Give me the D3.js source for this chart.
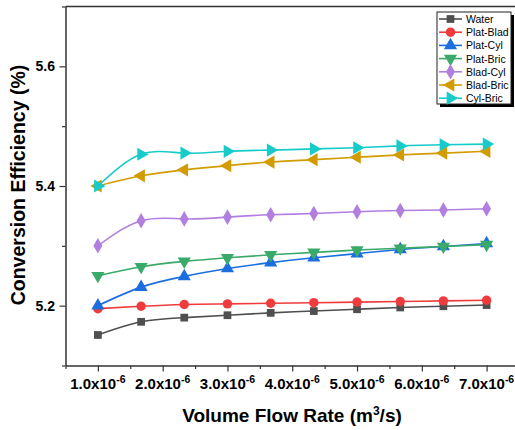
<!DOCTYPE html>
<html>
<head>
<meta charset="utf-8">
<script src="https://cdn.jsdelivr.net/npm/d3@7"></script>
<style>
  body { margin: 0; background: #fff; }
  svg { font-family: "Liberation Sans", Arial, sans-serif; }
</style>
</head>
<body>
<div id="chart"></div>
<script>
// volume flow rate (m3/s)
var flowRates = [1.0e-6, 1.667e-6, 2.333e-6, 3.0e-6, 3.667e-6, 4.333e-6, 5.0e-6, 5.667e-6, 6.333e-6, 7.0e-6];

var seriesNames = ["Water", "Plat-Blad", "Plat-Cyl", "Plat-Bric", "Blad-Cyl", "Blad-Bric", "Cyl-Bric"];

var water    = [5.151, 5.173, 5.180, 5.184, 5.188, 5.191, 5.194, 5.197, 5.199, 5.201];
var platBlad = [5.195, 5.199, 5.202, 5.203, 5.204, 5.205, 5.206, 5.207, 5.208, 5.209];
var platCyl  = [5.200, 5.231, 5.249, 5.262, 5.272, 5.280, 5.287, 5.294, 5.299, 5.304];
var platBric = [5.250, 5.265, 5.274, 5.280, 5.285, 5.289, 5.293, 5.296, 5.299, 5.302];
var bladCyl  = [5.300, 5.342, 5.345, 5.348, 5.352, 5.354, 5.357, 5.359, 5.360, 5.362];
var bladBric = [5.400, 5.417, 5.427, 5.434, 5.440, 5.444, 5.448, 5.452, 5.455, 5.458];
var cylBric  = [5.400, 5.453, 5.455, 5.458, 5.460, 5.462, 5.464, 5.467, 5.469, 5.470];

var xTicks = [1e-6, 2e-6, 3e-6, 4e-6, 5e-6, 6e-6, 7e-6];
var yTicks = [5.2, 5.4, 5.6];

var colors = ["#4f4f4f", "#ef3b3b", "#1c6ee0", "#3aaa6a", "#b07fe0", "#d29c00", "#17cbcb"];
var symbolTypes = [d3.symbolSquare, d3.symbolCircle, d3.symbolTriangle, d3.symbolTriangle,
                   d3.symbolDiamond, d3.symbolTriangle, d3.symbolTriangle];
var symbolRotate = [0, 0, 0, 180, 0, -90, 90];
var symbolSizes = [60, 70, 75, 75, 70, 75, 75];

var allValues = [water, platBlad, platCyl, platBric, bladCyl, bladBric, cylBric];
var series = seriesNames.map(function (name, i) {
  return {
    name: name,
    color: colors[i],
    values: allValues[i].map(function (v, j) { return { x: flowRates[j], y: v }; }),
    symbol: d3.symbol().type(symbolTypes[i]).size(symbolSizes[i]),
    rotate: symbolRotate[i]
  };
});

var width = 515, height = 430;
var margin = { left: 65.5, top: 6.5 };
var plotRight = 519, plotBottom = 365.5;

var svg = d3.select("#chart").append("svg")
            .attr("width", width)
            .attr("height", height);

var x = d3.scaleLinear().domain([0.5e-6, 7.5e-6]).range([margin.left, plotRight]);
var y = d3.scaleLinear().domain([5.1, 5.7]).range([plotBottom, margin.top]);

// axes
var xAxis = d3.axisBottom(x)
              .tickValues(d3.range(1, 15).map(function (k) { return k * 0.5e-6; }))
              .tickSize(0)
              .tickFormat("");
var gx = svg.append("g")
            .attr("transform", "translate(0," + plotBottom + ")")
            .call(xAxis);
gx.select(".domain").attr("stroke", "#333").attr("stroke-width", 1.5);
gx.selectAll(".tick line")
  .attr("stroke", "#333")
  .attr("stroke-width", 1.2)
  .attr("y2", function (d) { return Math.abs(d * 1e6 - Math.round(d * 1e6)) < 1e-6 ? 6 : 3.5; });

var gy = svg.append("g")
            .attr("transform", "translate(" + margin.left + ",0)")
            .call(d3.axisLeft(y).tickValues([5.1, 5.2, 5.3, 5.4, 5.5, 5.6, 5.7]).tickSize(0).tickFormat(""));
gy.select(".domain").attr("stroke", "#333").attr("stroke-width", 1.5);
gy.selectAll(".tick line")
  .attr("stroke", "#333")
  .attr("stroke-width", 1.2)
  .attr("x2", function (d) { return yTicks.some(function (t) { return Math.abs(t - d) < 1e-9; }) ? -6 : -3.5; });

// top frame line
svg.append("line")
   .attr("x1", margin.left).attr("x2", width)
   .attr("y1", margin.top).attr("y2", margin.top)
   .attr("stroke", "#333").attr("stroke-width", 1.5);

// tick labels
svg.selectAll(".ylab")
   .data(yTicks)
   .enter()
   .append("text")
   .attr("x", 55)
   .attr("y", function (d) { return y(d) + 5; })
   .attr("text-anchor", "end")
   .style("font-size", "14px")
   .style("font-weight", "bold")
   .text(function (d) { return d.toFixed(1); });

var xl = svg.selectAll(".xlab")
   .data(xTicks)
   .enter()
   .append("text")
   .attr("x", function (d) { return x(d); })
   .attr("y", 389)
   .attr("text-anchor", "middle")
   .style("font-size", "15px")
   .style("font-weight", "bold");
xl.append("tspan").text(function (d) { return (d * 1e6).toFixed(1) + "x10"; });
xl.append("tspan").attr("dy", -6).style("font-size", "10.5px").text("-6");

// axis titles
var xt = svg.append("text")
   .attr("x", 292)
   .attr("y", 422)
   .attr("text-anchor", "middle")
   .style("font-size", "19px")
   .style("font-weight", "bold");
xt.append("tspan").text("Volume Flow Rate (m");
xt.append("tspan").attr("dy", -7).style("font-size", "12px").text("3");
xt.append("tspan").attr("dy", 7).text("/s)");

svg.append("text")
   .attr("transform", "translate(25,185) rotate(-90)")
   .attr("text-anchor", "middle")
   .style("font-size", "19.5px")
   .style("font-weight", "bold")
   .text("Conversion Efficiency (%)");

// lines and markers
var line = d3.line()
             .x(function (d) { return x(d.x); })
             .y(function (d) { return y(d.y); })
             .curve(d3.curveNatural);

var groups = svg.selectAll(".series")
                .data(series)
                .enter()
                .append("g");

groups.append("path")
      .attr("d", function (d) { return line(d.values); })
      .attr("fill", "none")
      .attr("stroke", function (d) { return d.color; })
      .attr("stroke-width", 1.6);

groups.each(function (s) {
  d3.select(this).selectAll("path.marker")
    .data(s.values)
    .enter()
    .append("path")
    .attr("class", "marker")
    .attr("d", s.symbol)
    .attr("transform", function (d) { return "translate(" + x(d.x) + "," + y(d.y) + ") rotate(" + s.rotate + ")"; })
    .attr("fill", s.color);
});

// legend
var lgX = 437, lgY = 12, lgW = 74, lgH = 92, rowH = 13.2;
svg.append("rect")
   .attr("x", lgX + 3).attr("y", lgY + 3)
   .attr("width", lgW).attr("height", lgH)
   .attr("fill", "#000");
svg.append("rect")
   .attr("x", lgX).attr("y", lgY)
   .attr("width", lgW).attr("height", lgH)
   .attr("fill", "#fff")
   .attr("stroke", "#222")
   .attr("stroke-width", 1);

var items = svg.selectAll(".legend")
               .data(series)
               .enter()
               .append("g")
               .attr("transform", function (d, i) { return "translate(" + lgX + "," + (lgY + 7 + i * rowH) + ")"; });
items.append("line")
     .attr("x1", 2).attr("x2", 25)
     .attr("stroke", function (d) { return d.color; })
     .attr("stroke-width", 1.6);
items.append("path")
     .attr("d", function (d) { return d.symbol(); })
     .attr("transform", function (d) { return "translate(13.5,0) rotate(" + d.rotate + ")"; })
     .attr("fill", function (d) { return d.color; });
items.append("text")
     .attr("x", 29)
     .attr("y", 4)
     .style("font-size", "10.5px")
     .text(function (d) { return d.name; });
</script>
</body>
</html>
